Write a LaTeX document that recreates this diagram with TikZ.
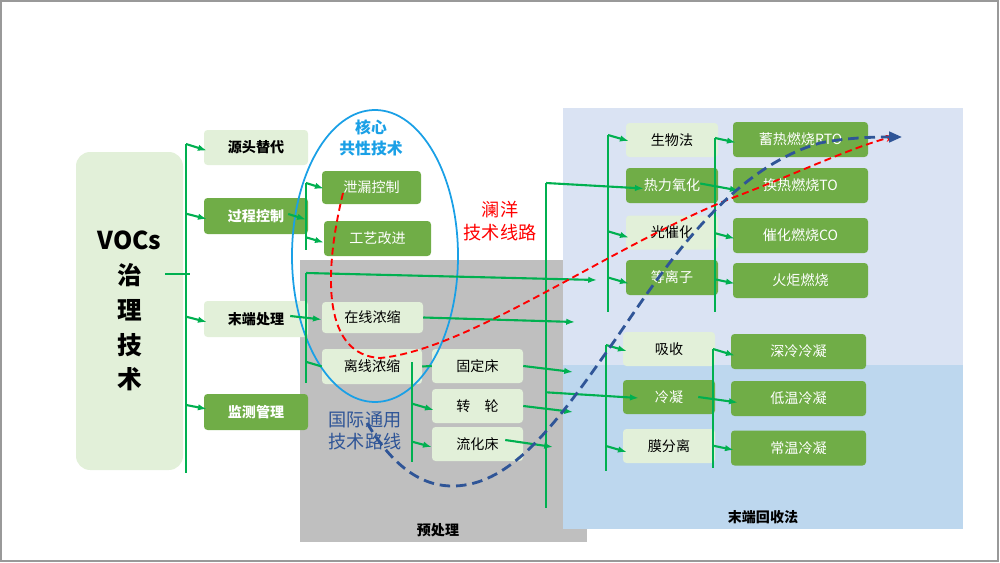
\documentclass[tikz,border=0pt]{standalone}
\usepackage{fontspec}
\setmainfont{Noto Sans CJK SC}
\usetikzlibrary{arrows.meta}
\definecolor{lgreen}{HTML}{E2F0D9}
\definecolor{dgreen}{HTML}{70AD47}
\definecolor{lnkgreen}{HTML}{00B050}
\definecolor{pregray}{HTML}{BFBFBF}
\definecolor{upblue}{HTML}{DAE3F3}
\definecolor{lowblue}{HTML}{BDD7EE}
\definecolor{ringblue}{HTML}{1AA0E6}
\definecolor{routeblue}{HTML}{2F5597}
\definecolor{routered}{HTML}{FF0000}
\begin{document}
\begin{tikzpicture}[x=0.03cm,y=-0.03cm,
    sz/.style 2 args={minimum width=#1*0.03cm,minimum height=#2*0.03cm},
    box/.style={rounded corners=3pt,inner sep=0pt,font=\fontsize{12}{14}\selectfont},
    lbox/.style={box,fill=lgreen,text=black},
    dbox/.style={box,fill=dgreen,text=white},
    hbox/.style={font=\fontsize{12}{14}\selectfont\bfseries},
    link/.style={lnkgreen,line width=1.8pt},
    arr/.style={link,-{Latex[length=7.5pt,width=5.5pt]}},
    reddash/.style={routered,line width=1.6pt,dash pattern=on 6pt off 3.5pt,-{Stealth[length=8pt,width=6pt]}},
    bluedash/.style={routeblue,line width=2.4pt,dash pattern=on 9pt off 5pt,-{Triangle[length=11pt,width=9pt]}}]
  \useasboundingbox (0,0) rectangle (1000,563);
  \draw[gray!80,line width=1.2pt] (1,1) rectangle (998,561);
  % areas
  \fill[pregray] (300,260) rectangle (587,542);
  \fill[upblue] (563,108) rectangle (963,365);
  \fill[lowblue] (563,365) rectangle (963,529);
  \node[hbox] (ycl) at (438,530) {预处理};
  \node[hbox] (mdh) at (763,517) {末端回收法};
  % root
  \node[fill=lgreen,rounded corners=12pt,sz={107}{318},align=center,
    font=\fontsize{21}{29.75}\selectfont\bfseries] (voc) at (129.5,311) {VOCs\\治\\理\\技\\术};
  % second column
  \node[lbox,sz={104}{35},hbox] (yt) at (256,147.5) {源头替代};
  \node[dbox,sz={104}{36},hbox] (gc) at (256,216) {过程控制};
  \node[lbox,sz={104}{36},hbox] (md) at (256,319) {末端处理};
  \node[dbox,sz={104}{36},hbox] (jc) at (256,412) {监测管理};
  % third column
  \node[dbox,sz={99}{33}] (xl) at (371.5,187.5) {泄漏控制};
  \node[dbox,sz={107}{35}] (gy) at (377.5,238.5) {工艺改进};
  \node[lbox,sz={101}{31}] (zx) at (372.5,317.5) {在线浓缩};
  \node[lbox,sz={100}{35}] (lx) at (372,366.5) {离线浓缩};
  \node[lbox,sz={91}{34}] (gd) at (477.5,366) {固定床};
  \node[lbox,sz={91}{34}] (zl) at (477.5,406) {转\hspace{1em}轮};
  \node[lbox,sz={91}{34}] (lh) at (477.5,444) {流化床};
  % fourth column
  \node[lbox,sz={92}{34}] (sw) at (672,140) {生物法};
  \node[dbox,sz={92}{35}] (rl) at (672,185.5) {热力氧化};
  \node[lbox,sz={92}{34}] (gch) at (672,232.5) {光催化};
  \node[dbox,sz={92}{35}] (dl) at (672,277.5) {等离子};
  \node[lbox,sz={92}{34}] (xs) at (669,349) {吸收};
  \node[dbox,sz={92}{34}] (ln) at (669,397) {冷凝};
  \node[lbox,sz={92}{34}] (mf) at (669,446) {膜分离};
  % fifth column
  \node[dbox,sz={135}{35}] (xr) at (800.5,139.5) {蓄热燃烧RTO};
  \node[dbox,sz={135}{35}] (hr) at (800.5,185.5) {换热燃烧TO};
  \node[dbox,sz={135}{35}] (ch) at (800.5,235.5) {催化燃烧CO};
  \node[dbox,sz={135}{35}] (hj) at (800.5,280.5) {火炬燃烧};
  \node[dbox,sz={135}{35}] (sl) at (798.5,351.5) {深冷冷凝};
  \node[dbox,sz={135}{35}] (dw) at (798.5,398.5) {低温冷凝};
  \node[dbox,sz={135}{35}] (cw) at (798.5,448) {常温冷凝};
  % core ring
  \draw[ringblue,line width=1.5pt] (375,256) ellipse [x radius=2.49cm,y radius=4.38cm];
  \node[ringblue,align=center,font=\fontsize{13.5}{18}\selectfont\bfseries] (hxjs) at (371,137.5) {核心\\共性技术};
  \node[routered,align=center,font=\fontsize{15.5}{19.5}\selectfont] (lyxl) at (500,221.5) {澜洋\\技术线路};
  \node[routeblue,align=center,font=\fontsize{15.5}{18.7}\selectfont] (gjty) at (365,431) {国际通用\\技术路线};
  % bars
  \coordinate (m0) at (186,144); \coordinate (m1) at (186,473);
  \coordinate (vs) at (165,274); \coordinate (ve) at (190,274);
  \coordinate (p0) at (306,183); \coordinate (p1) at (306,250);
  \coordinate (q0) at (306,273); \coordinate (q1) at (306,383);
  \coordinate (r0) at (412,362); \coordinate (r1) at (412,462);
  \coordinate (s0) at (546,183); \coordinate (s1) at (546,508);
  \coordinate (t0) at (608,135); \coordinate (t1) at (608,312);
  \coordinate (u0) at (715,138); \coordinate (u1) at (715,312);
  \coordinate (v0) at (606,345); \coordinate (v1) at (606,471);
  \coordinate (w0) at (713,349); \coordinate (w1) at (713,468);
  \coordinate (qe) at (597,280);
  \coordinate (ze) at (575,322);
  \coordinate (gde) at (573,372);
  \coordinate (zle) at (573,412);
  \coordinate (lhe) at (553,447);
  \begin{scope}[link]
    \draw (m0) -- (m1);
    \draw (vs) -- (ve);
    \draw (p0) -- (p1);
    \draw (q0) -- (q1);
    \draw (r0) -- (r1);
    \draw (s0) -- (s1);
    \draw (t0) -- (t1);
    \draw (u0) -- (u1);
    \draw (v0) -- (v1);
    \draw (w0) -- (w1);
    \draw ([yshift=4pt]q0 |- lx.west) -- (lx.west);
    \draw (lx.east) -- (gd.west);
  \end{scope}
  \begin{scope}[arr]
    \draw (m0) -- ([shift={(3,3)}]yt.west);
    \draw ([yshift=2pt]m0 |- gc.west) -- ([shift={(3,3)}]gc.west);
    \draw ([yshift=2pt]m0 |- md.west) -- ([shift={(3,3)}]md.west);
    \draw ([yshift=6pt]m0 |- jc.west) -- ([shift={(3,-3)}]jc.west);
    \draw ([shift={(-20,-2)}]gc.east) -- ([yshift=-3pt]p0 |- gc.east);
    \draw (p0) -- ([shift={(2,1)}]xl.west);
    \draw ([yshift=1pt]p0 |- gy.west) -- ([shift={(0,4)}]gy.west);
    \draw (q0) -- (qe);
    \draw ([shift={(-18,-3)}]md.east) -- ([shift={(0,2)}]zx.west);
    \draw (zx.east) -- (ze);
    \draw ([yshift=2pt]r0 |- zl.west) -- ([shift={(2,4)}]zl.west);
    \draw ([yshift=2pt]r0 |- lh.west) -- ([shift={(0,3)}]lh.west);
    \draw (gd.east) -- (gde);
    \draw (zl.east) -- (zle);
    \draw ([shift={(-18,-4)}]lh.east) -- (lhe);
    \draw (s0) -- ([shift={(18,3)}]rl.west);
    \draw ([yshift=4pt]s0 |- ln.west) -- ([shift={(16,1)}]ln.west);
    \draw (t0) -- ([shift={(3,1)}]sw.west);
    \draw ([yshift=1pt]t0 |- gch.west) -- ([shift={(3,5)}]gch.west);
    \draw (t0 |- dl.west) -- ([shift={(3,6)}]dl.west);
    \draw ([shift={(-18,-2)}]rl.east) -- ([shift={(6,5)}]hr.west);
    \draw (u0) -- ([shift={(3,3)}]xr.west);
    \draw ([yshift=2pt]u0 |- ch.west) -- ([shift={(2,3)}]ch.west);
    \draw ([yshift=1pt]u0 |- hj.west) -- ([shift={(2,3)}]hj.west);
    \draw (v0) -- ([shift={(4,2)}]xs.west);
    \draw (v0 |- mf.west) -- ([shift={(4,6)}]mf.west);
    \draw (w0) -- ([shift={(4,4)}]sl.west);
    \draw ([shift={(-17,0)}]ln.east) -- ([shift={(7,4)}]dw.west);
    \draw ([yshift=2pt]w0 |- cw.west) -- ([shift={(3,2)}]cw.west);
  \end{scope}
  % routes
  \coordinate (rs) at (343,193);
  \coordinate (re) at (895,136);
  \coordinate (bs) at (367,423);
  \coordinate (be) at (902,137);
  \draw[reddash] (rs) .. controls (322,280) and (325,355) .. (380,358)
    .. controls (470,350) and (620,240) .. (740,195)
    .. controls (800,172) and (850,148) .. (re);
  \draw[bluedash] (bs) .. controls (395,470) and (425,487) .. (455,486)
    .. controls (505,484) and (545,440) .. (603,357)
    .. controls (650,292) and (718,172) .. (820,143)
    .. controls (850,137) and (880,137) .. (be);
\end{tikzpicture}
\end{document}
